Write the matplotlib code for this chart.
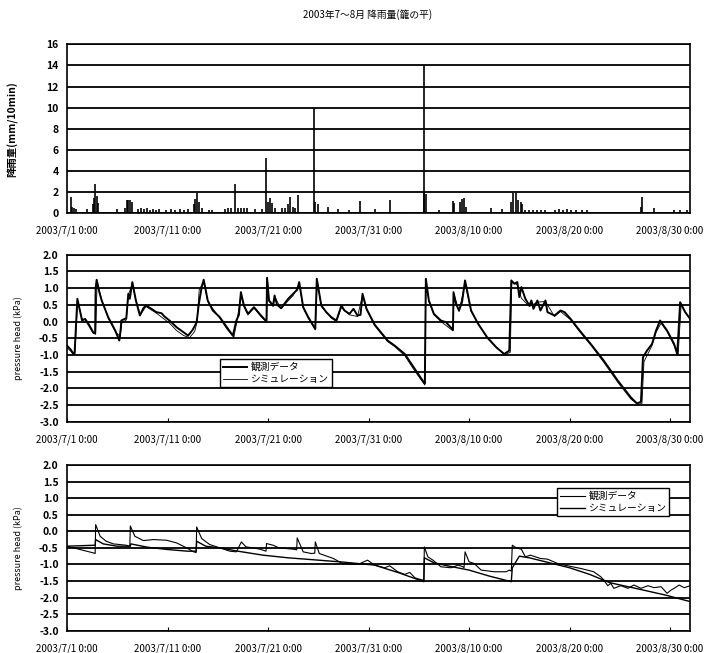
import pandas as pd
import matplotlib.pyplot as plt
import matplotlib.dates as mdates
from matplotlib.ticker import FuncFormatter, FixedLocator, MultipleLocator

plt.rcParams['font.family'] = ['Noto Sans CJK JP', 'DejaVu Sans']

# 経過日数 (2003/7/1 0:00 起点)
start = pd.Timestamp('2003-07-01')

# 降雨量 (mm/10min)
rain_day = [0.43, 0.5, 0.66, 0.9, 2.0, 2.55, 2.7, 2.8, 2.95, 3.1, 4.97,
            5.8, 5.96, 6.1, 6.3, 6.45, 7.1, 7.4, 7.7, 8.0, 8.3, 8.6, 8.9, 9.2,
            9.8, 10.3, 10.7, 11.2, 11.6, 12.0, 12.6, 12.75, 12.9, 13.1, 13.4,
            14.1, 14.4, 15.7, 16.0, 16.3, 16.7, 17.0, 17.3, 17.6, 17.9, 18.7,
            19.4, 19.8, 19.96, 20.2, 20.4, 20.7, 21.4, 21.7, 22.0, 22.2, 22.5,
            22.7, 23.0, 24.6, 24.7, 25.0, 26.0, 27.0, 28.1, 29.1, 30.6,
            32.1, 33.7, 35.5, 35.55, 35.7, 37.0, 38.4, 38.5, 39.1, 39.3, 39.5,
            39.7, 42.2, 43.3, 44.2, 44.4, 44.7, 44.9, 45.2, 45.3, 45.6, 46.0,
            46.4, 46.8, 47.2, 47.6, 48.5, 48.9, 49.3, 49.7, 50.1, 50.6, 51.2,
            51.7, 57.1, 57.2, 58.4, 60.4, 61.0, 61.7]
rain_mm = [1.55, 0.6, 0.5, 0.4, 0.4, 0.8, 1.4, 2.7, 1.6, 0.9, 0.4,
           0.5, 1.2, 1.2, 1.2, 1.0, 0.4, 0.5, 0.4, 0.5, 0.3, 0.4, 0.3, 0.4,
           0.3, 0.4, 0.3, 0.4, 0.3, 0.4, 0.8, 1.3, 1.9, 1.0, 0.5,
           0.3, 0.3, 0.4, 0.5, 0.5, 2.7, 0.5, 0.5, 0.5, 0.5, 0.4,
           0.4, 5.2, 1.0, 1.4, 0.9, 0.5, 0.5, 0.5, 0.8, 1.5, 0.6,
           0.5, 1.7, 10.0, 1.0, 0.8, 0.6, 0.4, 0.3, 1.1, 0.4,
           1.2, 0.1, 2.0, 14.0, 1.8, 0.3, 1.1, 0.9, 1.0, 1.3, 1.4,
           0.6, 0.5, 0.4, 1.0, 1.9, 1.9, 1.2, 1.0, 0.8, 0.3, 0.3,
           0.3, 0.3, 0.3, 0.3, 0.3, 0.4, 0.3, 0.4, 0.3, 0.3, 0.3,
           0.3, 0.6, 1.55, 0.5, 0.3, 0.3, 0.3]

# 圧力水頭 (中段) 観測データ
obs1_day = [0.0, 0.4, 0.63, 0.75, 1.03, 1.5, 1.8, 2.2, 2.6, 2.8, 2.85, 2.95,
            3.2, 3.45, 4.1, 4.8, 5.2, 5.35, 5.4, 5.75, 5.9, 6.1, 6.25, 6.5,
            6.85, 7.25, 7.6, 7.85, 8.3, 8.9, 9.4, 9.7, 10.2, 10.9, 11.6,
            12.05, 12.5, 12.9, 13.1, 13.4, 13.6, 14.0, 14.5, 15.2, 15.9,
            16.5, 16.85, 17.1, 17.3, 17.6, 18.0, 18.6, 19.3, 19.85, 19.9,
            20.1, 20.5, 20.65, 20.9, 21.3, 22.0, 22.5, 22.9, 23.1, 23.5,
            24.0, 24.7, 24.85, 25.3, 25.8, 26.3, 26.8, 27.3, 27.6, 28.1,
            28.5, 28.9, 29.2, 29.4, 29.8, 30.4, 30.6, 31.9, 32.6, 33.6,
            34.6, 35.5, 35.6, 35.7, 36.0, 36.5, 37.2, 37.7, 38.4, 38.45,
            38.7, 39.0, 39.3, 39.6, 40.2, 40.9, 41.8, 42.7, 43.5, 44.0,
            44.2, 44.5, 44.8, 45.0, 45.2, 45.6, 46.0, 46.2, 46.4, 46.8,
            47.1, 47.6, 47.8, 48.5, 49.1, 49.5, 50.1, 51.0, 52.1, 53.4,
            54.8, 56.1, 56.7, 57.1, 57.3, 57.7, 58.2, 58.6, 59.0, 59.7,
            60.4, 60.7, 60.8, 61.0, 61.5, 62.0]
obs1_val = [-0.72, -0.85, -0.97, -0.97, 0.68, 0.03, 0.08, -0.1, -0.32, -0.35,
            1.0, 1.25, 0.9, 0.63, 0.13, -0.27, -0.57, -0.2, 0.03, 0.08, 0.1,
            0.83, 0.68, 1.18, 0.63, 0.18, 0.4, 0.48, 0.4, 0.28, 0.25, 0.15,
            0.03, -0.17, -0.32, -0.42, -0.25, -0.02, 0.5, 1.03, 1.25, 0.63,
            0.33, 0.13, -0.17, -0.42, 0.03, 0.2, 0.88, 0.48, 0.23, 0.43,
            0.18, 0.0, 1.31, 0.63, 0.48, 0.78, 0.5, 0.4, 0.68, 0.83, 0.95,
            1.18, 0.43, 0.13, -0.22, 1.28, 0.48, 0.28, 0.13, 0.03, 0.48,
            0.33, 0.23, 0.38, 0.18, 0.2, 0.83, 0.38, 0.03, -0.09, -0.57,
            -0.72, -0.97, -1.42, -1.82, -1.85, 1.28, 0.63, 0.23, 0.03, -0.02,
            -0.25, 0.88, 0.53, 0.33, 0.58, 1.23, 0.33, -0.07, -0.47, -0.77,
            -0.97, -0.87, 1.23, 1.13, 1.18, 0.73, 1.03, 0.68, 0.48, 0.63,
            0.38, 0.63, 0.33, 0.63, 0.28, 0.18, 0.33, 0.28, 0.08, -0.27,
            -0.67, -1.17, -1.77, -2.27, -2.45, -2.4, -1.07, -0.87, -0.67,
            -0.27, 0.03, -0.27, -0.67, -0.97, -0.5, 0.58, 0.28, 0.08]

# 圧力水頭 (中段) シミュレーション
sim1_day = [0.0, 0.4, 0.7, 0.8, 1.05, 1.5, 1.8, 2.6, 2.85, 3.0, 3.45, 4.1,
            4.8, 5.3, 5.45, 5.9, 6.1, 6.5, 6.9, 7.3, 7.85, 8.9, 10.2, 10.9,
            11.6, 12.2, 12.7, 12.95, 13.15, 13.6, 14.0, 15.2, 15.9, 16.6,
            16.9, 17.3, 17.6, 18.0, 18.6, 19.3, 19.85, 19.95, 20.1, 20.5,
            20.7, 21.3, 22.0, 22.5, 23.1, 23.5, 24.0, 24.7, 24.9, 25.3,
            26.3, 26.8, 27.3, 28.1, 28.9, 29.4, 29.8, 30.6, 31.9, 32.6,
            33.6, 34.6, 35.6, 35.7, 36.0, 36.5, 37.2, 38.4, 38.5, 39.0,
            39.6, 40.2, 41.8, 43.5, 44.1, 44.25, 44.8, 45.2, 46.0, 46.8,
            47.6, 48.5, 49.1, 50.1, 51.0, 52.1, 53.4, 54.8, 56.1, 56.8,
            57.2, 57.4, 58.2, 58.6, 59.1, 59.7, 60.4, 60.8, 61.1, 61.5,
            62.0]
sim1_val = [-0.78, -0.9, -1.0, -0.9, 0.62, 0.08, 0.05, -0.35, -0.38, 1.2,
            0.65, 0.1, -0.3, -0.45, -0.05, 0.05, 0.8, 1.12, 0.6, 0.2, 0.45,
            0.25, -0.05, -0.27, -0.42, -0.48, -0.3, 0.0, 0.95, 1.2, 0.6,
            0.1, -0.22, -0.47, 0.0, 0.8, 0.45, 0.2, 0.4, 0.15, -0.02, 1.25,
            0.6, 0.45, 0.72, 0.38, 0.62, 0.78, 1.12, 0.4, 0.1, -0.25, 1.22,
            0.45, 0.1, 0.0, 0.42, 0.2, 0.15, 0.78, 0.35, -0.12, -0.6,
            -0.75, -1.02, -1.48, -1.9, 1.22, 0.6, 0.2, 0.0, -0.28, 0.82,
            0.3, 1.15, 0.3, -0.5, -1.0, -0.92, 1.18, 1.1, 0.7, 0.45, 0.58,
            0.6, 0.15, 0.3, 0.05, -0.3, -0.7, -1.22, -1.82, -2.32, -2.48,
            -2.45, -1.2, -0.72, -0.32, -0.05, -0.3, -0.72, -1.0, 0.5, 0.3,
            0.05]

# 圧力水頭 (下段) 観測データ
obs2_day = [0.0, 2.6, 2.8, 2.85, 3.3, 3.9, 4.6, 5.9, 6.25, 6.3, 6.75, 7.6,
            8.6, 9.9, 10.9, 11.9, 12.6, 12.85, 12.9, 13.4, 14.2, 15.2,
            16.2, 16.85, 17.35, 17.8, 18.5, 19.2, 19.8, 19.85, 20.5, 21.1,
            22.5, 22.85, 22.9, 23.5, 24.3, 24.65, 24.7, 25.1, 26.5, 27.4,
            28.5, 29.1, 29.9, 30.6, 31.6, 32.1, 32.9, 33.6, 34.1, 34.6,
            35.0, 35.4, 35.5, 35.55, 35.9, 36.4, 37.2, 38.2, 38.9, 39.4,
            39.5, 39.6, 40.0, 40.5, 41.2, 42.5, 43.7, 44.0, 44.2, 44.3,
            44.7, 45.2, 45.6, 46.1, 47.1, 47.8, 48.8, 49.8, 51.1, 52.4,
            53.1, 53.4, 53.8, 54.1, 54.4, 55.1, 55.8, 56.4, 57.1, 57.8,
            58.4, 59.1, 59.7, 60.1, 60.4, 60.9, 61.4, 62.0]
obs2_val = [-0.45, -0.65, -0.67, 0.2, -0.15, -0.3, -0.38, -0.42, -0.45, 0.16,
            -0.15, -0.28, -0.25, -0.27, -0.35, -0.5, -0.62, -0.64, 0.13,
            -0.22, -0.4, -0.5, -0.6, -0.62, -0.32, -0.47, -0.5, -0.54, -0.6,
            -0.37, -0.42, -0.5, -0.54, -0.56, -0.2, -0.62, -0.67, -0.66,
            -0.32, -0.67, -0.82, -0.97, -1.0, -0.98, -0.87, -1.02, -1.1,
            -1.04, -1.22, -1.3, -1.24, -1.4, -1.44, -1.47, -1.5, -0.47,
            -0.77, -0.87, -1.07, -1.1, -1.02, -1.07, -1.1, -0.62, -0.92,
            -0.97, -1.17, -1.22, -1.22, -1.17, -1.2, -0.42, -0.5, -0.54,
            -0.77, -0.72, -0.82, -0.84, -0.97, -1.04, -1.12, -1.22, -1.37,
            -1.47, -1.64, -1.57, -1.72, -1.64, -1.72, -1.62, -1.72, -1.64,
            -1.7, -1.67, -1.87, -1.77, -1.72, -1.62, -1.7, -1.64]

# 圧力水頭 (下段) シミュレーション
sim2_day = [0.0, 2.8, 2.85, 3.6, 5.0, 6.3, 6.35, 8.0, 10.0, 12.0, 12.85,
            12.9, 13.8, 15.2, 17.0, 19.5, 22.0, 25.0, 27.5, 30.6, 33.0,
            35.5, 35.55, 36.5, 38.0, 40.0, 42.0, 44.2, 44.3, 45.0, 46.0,
            48.0, 50.0, 52.0, 54.0, 57.0, 59.5, 62.0]
sim2_val = [-0.45, -0.42, -0.25, -0.38, -0.45, -0.45, -0.38, -0.48, -0.55,
            -0.6, -0.6, -0.3, -0.45, -0.5, -0.6, -0.72, -0.8, -0.87, -0.93,
            -1.02, -1.25, -1.52, -0.8, -0.95, -1.05, -1.17, -1.35, -1.52,
            -1.1, -0.75, -0.8, -0.95, -1.1, -1.3, -1.55, -1.75, -1.92, -2.12]

tick_dates = pd.date_range('2003-07-01', periods=7, freq='10D')
legend_labels = ['観測データ', 'シミュレーション']


def days_to_time(days):
    return start + pd.to_timedelta(days, unit='D')


def date_label(x, pos):
    d = mdates.num2date(x)
    return '%d/%d/%d %d:%02d' % (d.year, d.month, d.day, d.hour, d.minute)


def setup_axis(ax, ymin, ymax, step, fmt):
    ax.set_xlim(start, pd.Timestamp('2003-09-01'))
    ax.set_ylim(ymin, ymax)
    ax.xaxis.set_major_locator(FixedLocator(mdates.date2num(tick_dates)))
    ax.xaxis.set_major_formatter(FuncFormatter(date_label))
    ax.yaxis.set_major_locator(MultipleLocator(step))
    ax.yaxis.set_major_formatter(FuncFormatter(lambda v, p: fmt % v))
    ax.grid(axis='y', color='black', linewidth=1.3)
    ax.set_axisbelow(True)
    for s in ax.spines.values():
        s.set_linewidth(1.2)
    ax.tick_params(axis='x', direction='in', length=3, pad=9, labelsize=7)
    ax.tick_params(axis='y', length=0, pad=6, labelsize=7.5)
    for t in ax.get_yticklabels():
        t.set_fontweight('bold')


fig = plt.figure(figsize=(7.09, 6.53), dpi=100)
ax1 = fig.add_axes([0.0945, 0.674, 0.879, 0.258])
ax2 = fig.add_axes([0.0945, 0.354, 0.879, 0.256])
ax3 = fig.add_axes([0.0945, 0.034, 0.879, 0.254])

# 降雨量
setup_axis(ax1, 0, 16, 2, '%d')
ax1.vlines(days_to_time(rain_day), 0, rain_mm, color='black', linewidth=1.2)
ax1.tick_params(axis='x', length=0)
ax1.set_ylabel('降雨量(mm/10min)', fontsize=7.5, fontweight='bold')
ax1.yaxis.set_label_coords(-0.078, 0.5)
fig.text(0.518, 0.978, '2003年7〜8月 降雨量(籠の平)', ha='center', va='center', fontsize=7)

# 中段
setup_axis(ax2, -3.0, 2.0, 0.5, '%.1f')
ax2.plot(days_to_time(obs1_day), obs1_val, color='black', linewidth=1.4, label=legend_labels[0])
ax2.plot(days_to_time(sim1_day), sim1_val, color='black', linewidth=0.6, label=legend_labels[1])
ax2.set_ylabel('pressure head (kPa)', fontsize=6.5)
ax2.yaxis.set_label_coords(-0.07, 0.5)
leg = ax2.legend(loc='upper left', bbox_to_anchor=(0.245, 0.375), fontsize=7, frameon=True,
                 fancybox=False, edgecolor='black', framealpha=1, borderpad=0.3,
                 handlelength=2.5, handletextpad=0.4, labelspacing=0.2, borderaxespad=0)
leg.get_frame().set_linewidth(1.0)

# 下段
setup_axis(ax3, -3.0, 2.0, 0.5, '%.1f')
ax3.plot(days_to_time(obs2_day), obs2_val, color='black', linewidth=0.8, label=legend_labels[0])
ax3.plot(days_to_time(sim2_day), sim2_val, color='black', linewidth=1.0, label=legend_labels[1])
ax3.set_ylabel('pressure head (kPa)', fontsize=6.5)
ax3.yaxis.set_label_coords(-0.07, 0.5)
leg = ax3.legend(loc='upper left', bbox_to_anchor=(0.787, 0.86), fontsize=7, frameon=True,
                 fancybox=False, edgecolor='black', framealpha=1, borderpad=0.3,
                 handlelength=2.5, handletextpad=0.4, labelspacing=0.2, borderaxespad=0)
leg.get_frame().set_linewidth(1.0)

plt.savefig('out.png', dpi=100)
